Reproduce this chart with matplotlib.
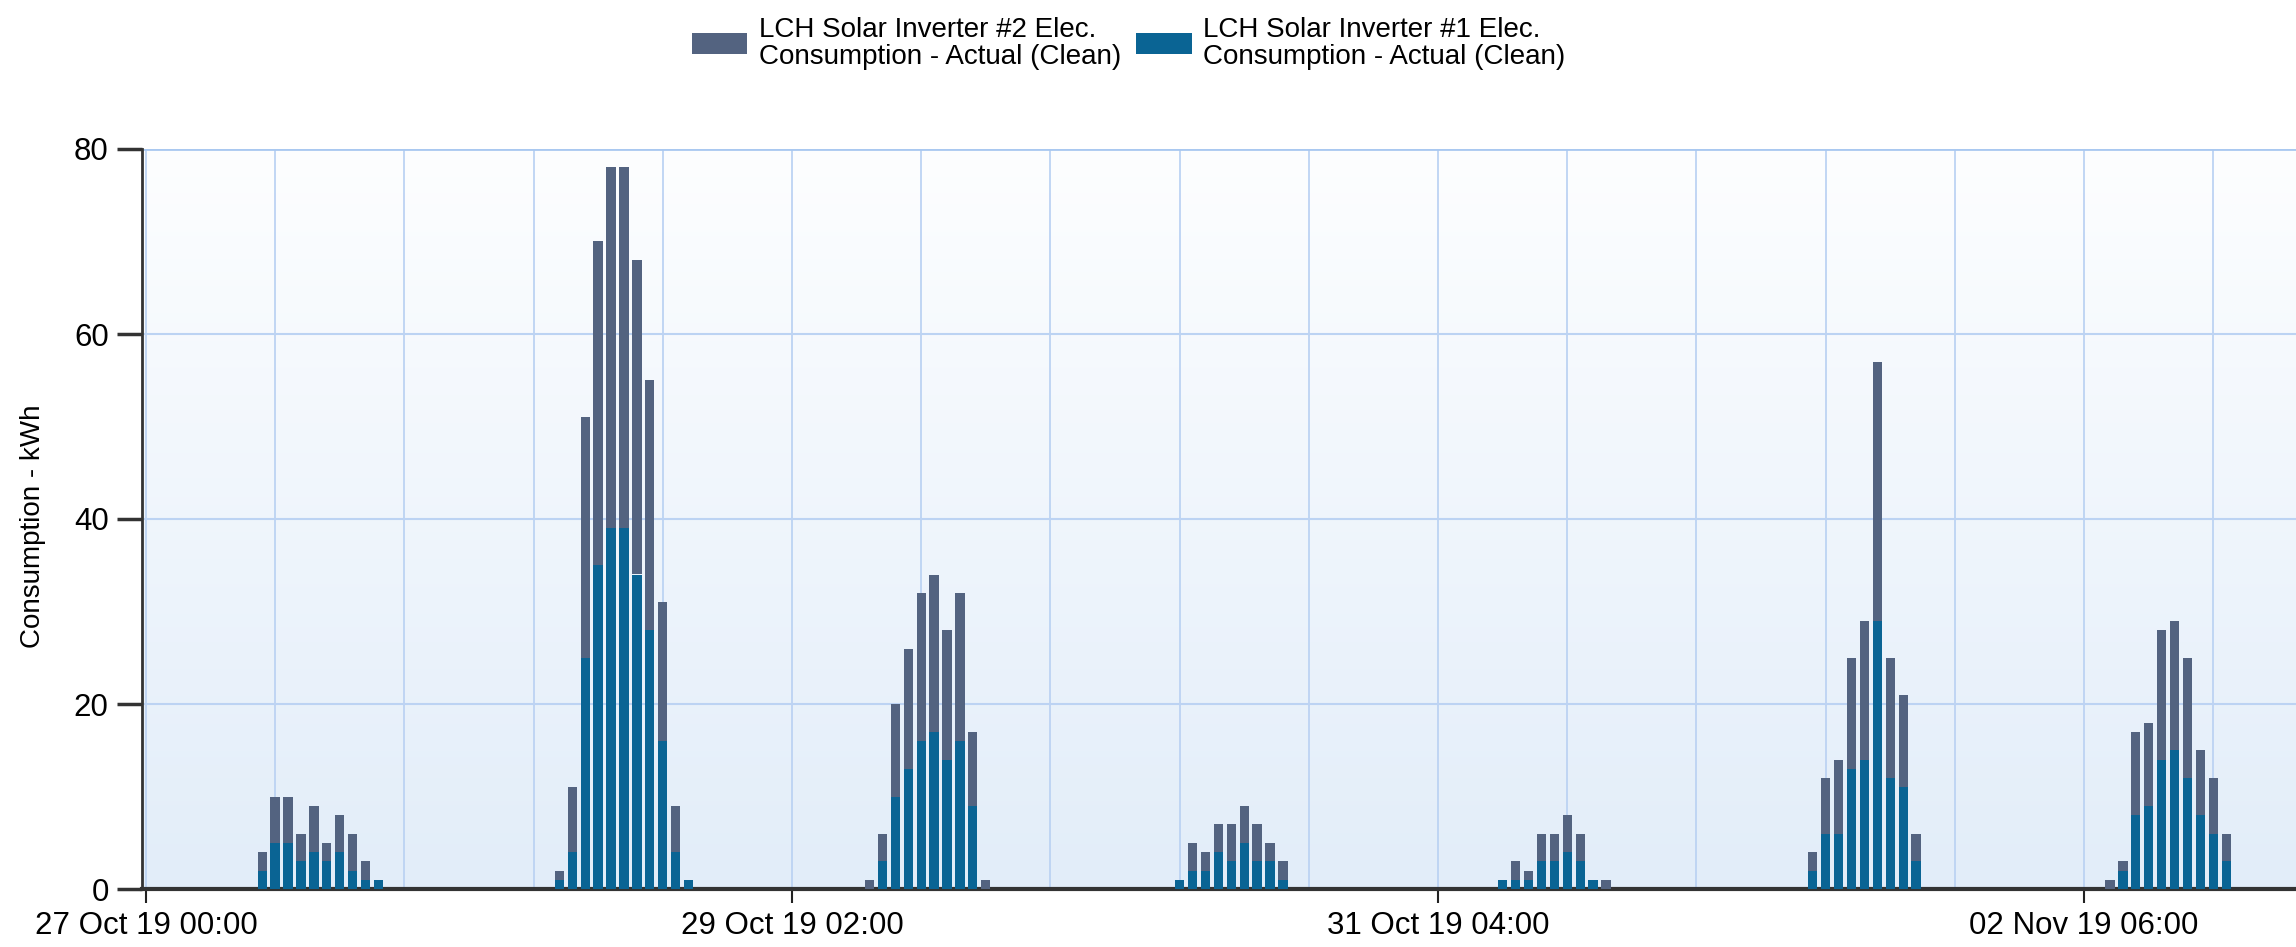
import matplotlib
matplotlib.use("Agg")
import matplotlib.pyplot as plt
import matplotlib.dates as mdates
from matplotlib.colors import LinearSegmentedColormap
import numpy as np
import pandas as pd

# first hour with output for each day
day_starts = ['2019-10-27 09:00', '2019-10-28 08:00', '2019-10-29 08:00',
              '2019-10-30 08:00', '2019-10-31 09:00', '2019-11-01 09:00',
              '2019-11-02 08:00']

# hourly kWh, inverter #1 (bottom, blue)
inverter1 = [
    [2, 5, 5, 3, 4, 3, 4, 2, 1, 1],
    [1, 4, 25, 35, 39, 39, 34, 28, 16, 4, 1],
    [0, 3, 10, 13, 16, 17, 14, 16, 9, 0],
    [1, 2, 2, 4, 3, 5, 3, 3, 1],
    [1, 1, 1, 3, 3, 4, 3, 1, 0],
    [2, 6, 6, 13, 14, 29, 12, 11, 3],
    [0, 2, 8, 9, 14, 15, 12, 8, 6, 3],
]

# hourly kWh, inverter #2 (stacked on top, grey)
inverter2 = [
    [2, 5, 5, 3, 5, 2, 4, 4, 2, 0],
    [1, 7, 26, 35, 39, 39, 34, 27, 15, 5, 0],
    [1, 3, 10, 13, 16, 17, 14, 16, 8, 1],
    [0, 3, 2, 3, 4, 4, 4, 2, 2],
    [0, 2, 1, 3, 3, 4, 3, 0, 1],
    [2, 6, 8, 12, 15, 28, 13, 10, 3],
    [1, 1, 9, 9, 14, 14, 13, 7, 6, 3],
]

label1 = 'LCH Solar Inverter #1 Elec.\nConsumption - Actual (Clean)'
label2 = 'LCH Solar Inverter #2 Elec.\nConsumption - Actual (Clean)'
y_ticks = [0, 20, 40, 60, 80]

start = pd.Timestamp('2019-10-27 00:00')

# build hourly series
times, v1, v2 = [], [], []
for s, a, b in zip(day_starts, inverter1, inverter2):
    idx = pd.date_range(s, periods=len(a), freq='h')
    times += list(idx)
    v1 += a
    v2 += b
times = mdates.date2num(pd.DatetimeIndex(times).to_pydatetime())
v1 = np.array(v1)
v2 = np.array(v2)

plt.rcParams['font.family'] = ['Liberation Sans', 'DejaVu Sans']
fs_tick, fs_leg, fs_lab = 22.5, 20, 20

c_blue = '#0a6494'
c_grey = '#536380'
grid_c = '#bcd3f3'

fig = plt.figure(figsize=(22.96, 9.47), dpi=100)
ax = fig.add_axes([142 / 2296, 1 - 889 / 947, 1 - 142 / 2296, (889 - 149) / 947])

hour = 1 / 24
x_left = mdates.date2num(start) - 0.3 * hour
x_right = mdates.date2num(start) + 166.4 * hour

# background gradient, white at the top to pale blue at the bottom
grad = np.linspace(0, 1, 256).reshape(-1, 1)
cmap = LinearSegmentedColormap.from_list('bg', ['#fdfeff', '#e2edf9'])
ax.imshow(grad, aspect='auto', cmap=cmap, origin='upper', extent=[0, 1, 0, 1],
          transform=ax.transAxes, zorder=0)

w = 0.72 * hour
ax.bar(times, v1, width=w, color=c_blue, linewidth=0, label=label1, zorder=3)
ax.bar(times, v2, width=w, bottom=v1, color=c_grey, linewidth=0, label=label2, zorder=3)

ax.set_xlim(x_left, x_right)
ax.set_ylim(0, 80)

major = pd.date_range(start, periods=4, freq='50h')
minor = pd.date_range(start, periods=18, freq='10h')
ax.xaxis.set_major_locator(plt.FixedLocator(mdates.date2num(major.to_pydatetime())))
ax.xaxis.set_minor_locator(plt.FixedLocator(mdates.date2num(minor.to_pydatetime())))
ax.xaxis.set_major_formatter(mdates.DateFormatter('%d %b %y %H:%M'))
ax.set_yticks(y_ticks)

ax.grid(True, which='both', axis='x', color=grid_c, linewidth=1.3, zorder=1)
ax.grid(True, which='major', axis='y', color=grid_c, linewidth=1.5, zorder=1)
ax.set_axisbelow(True)

ax.tick_params(axis='x', which='major', length=10, width=1.5, color='#222222',
               labelsize=fs_tick, pad=6)
ax.tick_params(axis='x', which='minor', length=0)
ax.tick_params(axis='y', length=18, width=2.5, color='#333333', labelsize=fs_tick, pad=6)

for side in ['top', 'right']:
    ax.spines[side].set_visible(False)
ax.spines['left'].set_color('#333333')
ax.spines['left'].set_linewidth(2)
ax.spines['bottom'].set_color('#333333')
ax.spines['bottom'].set_linewidth(3)
ax.axhline(80, color='#a9c8f0', linewidth=2, zorder=2)

ax.set_ylabel('Consumption - kWh', fontsize=fs_lab)
ax.yaxis.set_label_coords(-0.0445, 0.49)

handles, labels = ax.get_legend_handles_labels()
leg = fig.legend([handles[1], handles[0]], [labels[1], labels[0]],
                 loc='upper center', bbox_to_anchor=(0.4915, 1.0), ncol=2,
                 frameon=False, fontsize=fs_leg, handlelength=2.0, handleheight=0.75,
                 handletextpad=0.4, columnspacing=0.55, borderaxespad=0.2)
for t in leg.get_texts():
    t.set_linespacing(1.05)

fig.savefig('out.png', dpi=100)
